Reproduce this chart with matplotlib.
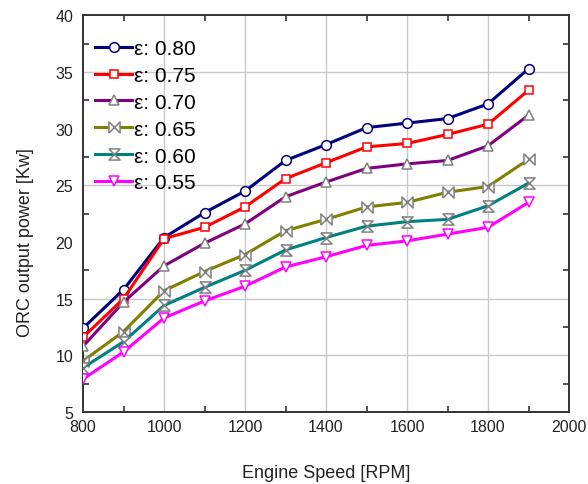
import matplotlib
matplotlib.use("Agg")
import matplotlib.pyplot as plt
from matplotlib.ticker import MultipleLocator

plt.rcParams['font.family'] = ['Liberation Sans', 'DejaVu Sans']

rpm = [800, 900, 1000, 1100, 1200, 1300, 1400, 1500, 1600, 1700, 1800, 1900]
eps_labels = ["ε: 0.80", "ε: 0.75", "ε: 0.70", "ε: 0.65", "ε: 0.60", "ε: 0.55"]
p080 = [12.4, 15.8, 20.4, 22.6, 24.5, 27.2, 28.6, 30.1, 30.5, 30.9, 32.2, 35.3]
p075 = [11.6, 15.0, 20.3, 21.3, 23.1, 25.6, 27.0, 28.4, 28.7, 29.5, 30.4, 33.4]
p070 = [10.8, 14.7, 17.9, 19.9, 21.6, 24.0, 25.3, 26.5, 26.9, 27.2, 28.5, 31.2]
p065 = [9.5, 12.1, 15.7, 17.4, 18.9, 21.0, 22.0, 23.1, 23.5, 24.4, 24.9, 27.3]
p060 = [8.9, 11.2, 14.4, 16.0, 17.5, 19.3, 20.4, 21.4, 21.8, 22.0, 23.2, 25.2]
p055 = [7.9, 10.3, 13.3, 14.8, 16.1, 17.8, 18.7, 19.7, 20.1, 20.7, 21.3, 23.5]
series = [p080, p075, p070, p065, p060, p055]

colors = ["#000080", "#ff0000", "#800080", "#808000", "#008080", "#ff00ff"]
bowtie = [(-1, -1), (-1, 1), (1, -1), (1, 1), (-1, -1)]
hourglass = [(-1, 1), (1, 1), (-1, -1), (1, -1), (-1, 1)]
markers = ["o", "s", "^", bowtie, hourglass, "v"]
msizes = [7, 5.5, 7.5, 8, 8, 7.5]
edgecols = ["#000080", "#ff0000", "#808080", "#808080", "#808080", "#ff00ff"]

grid_x = [1000, 1200, 1400, 1600, 1800]
grid_y = [10, 15, 25, 35]

fig = plt.figure(figsize=(5.88, 4.85), dpi=100)
ax = fig.add_axes([0.1412, 0.1485, 0.8265, 0.8175])

for gx in grid_x:
    ax.axvline(gx, color="#c8c8c8", lw=1.0, zorder=0)
for gy in grid_y:
    ax.axhline(gy, color="#c8c8c8", lw=1.0, zorder=0)

for vals, lab, c, m, ms, ec in zip(series, eps_labels, colors, markers, msizes, edgecols):
    ax.plot(rpm, vals, color=c, lw=2.2, marker=m, markersize=ms,
            markerfacecolor="white", markeredgecolor=ec, markeredgewidth=1.1,
            label=lab, zorder=3)

ax.set_xlim(800, 2000)
ax.set_ylim(5, 40)
ax.xaxis.set_major_locator(MultipleLocator(200))
ax.xaxis.set_minor_locator(MultipleLocator(100))
ax.yaxis.set_major_locator(MultipleLocator(5))
ax.yaxis.set_minor_locator(MultipleLocator(2.5))
ax.tick_params(which="major", length=0, labelsize=11.5, colors="#222222")
ax.tick_params(axis="x", which="major", pad=5)
ax.tick_params(axis="y", which="major", pad=7)
ax.tick_params(which="minor", direction="in", length=4, width=1.2,
               top=True, right=True, colors="#333333")
for s in ax.spines.values():
    s.set_linewidth(1.4)
    s.set_color("#333333")

ax.set_xlabel("Engine Speed [RPM]", fontsize=13, labelpad=22, color="#222222")
ax.set_ylabel("ORC output power [Kw]", fontsize=13, color="#222222")
ax.yaxis.set_label_coords(-0.10, 0.43)

leg = ax.legend(loc="upper left", frameon=False, fontsize=15,
                handlelength=1.8, handletextpad=0.1, labelspacing=0.38,
                borderaxespad=0.0, bbox_to_anchor=(0.007, 0.962))

fig.savefig("out.png", dpi=100)
